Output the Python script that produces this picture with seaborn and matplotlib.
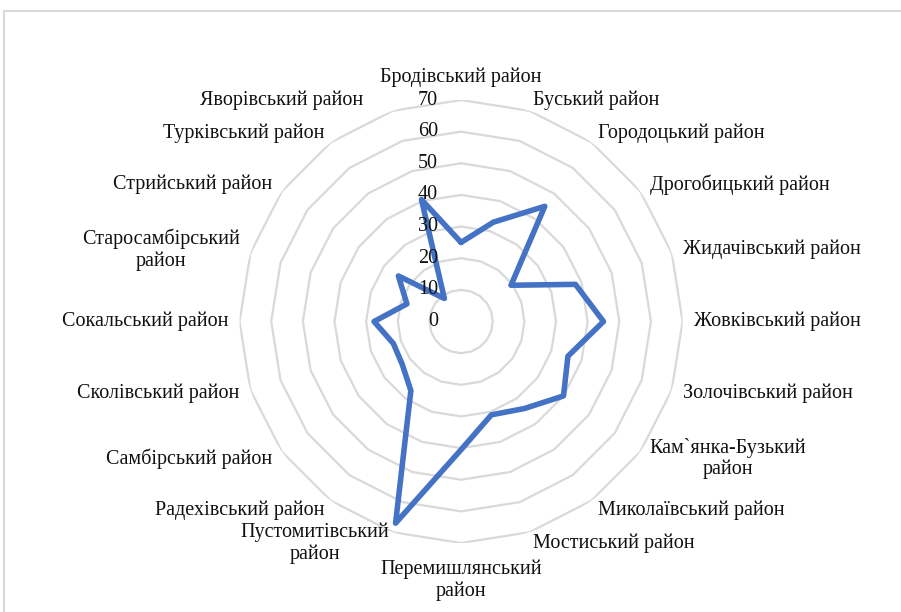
import numpy as np
import pandas as pd
import matplotlib
matplotlib.use("Agg")
import matplotlib.pyplot as plt
import matplotlib.patches as patches
from matplotlib.transforms import offset_copy
import seaborn as sns

# districts, clockwise from the top
districts = ['Бродівський район', 'Буський район', 'Городоцький район',
             'Дрогобицький район', 'Жидачівський район', 'Жовківський район',
             'Золочівський район', 'Кам`янка-Бузький\nрайон', 'Миколаївський район',
             'Мостиський район', 'Перемишлянський\nрайон', 'Пустомитівський\nрайон',
             'Радехівський район', 'Самбірський район', 'Сколівський район',
             'Сокальський район', 'Старосамбірський\nрайон', 'Стрийський район',
             'Турківський район', 'Яворівський район']
values = [25, 33, 45, 19.5, 38, 45, 35.5, 40, 34, 31,
          40.5, 67, 27, 23, 22.5, 27.5, 18, 24.5, 9, 40.5]
rings = [0, 10, 20, 30, 40, 50, 60, 70]

sns.set_theme(style="white")
plt.rcParams['font.family'] = ['Liberation Serif', 'DejaVu Serif']

fig = plt.figure(figsize=(9.01, 6.12), dpi=100)
ax = fig.add_axes([0.2659, 0.1127, 0.4917, 0.7239], projection='polar')
ax.set_theta_offset(np.pi / 2)
ax.set_theta_direction(-1)

n = len(districts)
theta = np.arange(n) * 2 * np.pi / n
# close the polygon at 2*pi so seaborn does not merge it with the first point
theta_closed = np.append(theta, 2 * np.pi)

# polygon grid
for r in rings[1:]:
    ax.plot(theta_closed, [r] * (n + 1), color='#d9d9d9', lw=1.6, zorder=1)

df = pd.DataFrame({'theta': theta_closed, 'value': values + values[:1]})
sns.lineplot(data=df, x='theta', y='value', sort=False, estimator=None, ax=ax,
             color='#4472C4', lw=4, zorder=3)

ax.set_ylim(0, 70)
ax.grid(False)
ax.spines['polar'].set_visible(False)
ax.set_xticks([])
ax.set_yticks([])
ax.set_xlabel('')
ax.set_ylabel('')
ax.patch.set_alpha(0)

fs = 14.5
txt_color = '#111111'
# radial value labels, left of the vertical axis
trans = offset_copy(ax.transData, fig=fig, x=-23, y=0, units='dots')
for r in rings:
    ax.text(0, r, str(r), transform=trans, ha='right', va='center',
            fontsize=fs, color=txt_color)

# category labels
R = 73.6
for i, (t, lab) in enumerate(zip(theta, districts)):
    deg = np.degrees(t)
    s = np.sin(t)
    if abs(s) < 1e-6:
        ha = 'center'
    elif s > 0:
        ha = 'left'
    else:
        ha = 'right'
    va = 'center'
    rr = R
    if deg == 0:
        va = 'bottom'
        rr = 74.2
    elif abs(deg - 180) < 1e-6:
        va = 'top'
        rr = 75.2
    tr = ax.transData
    if lab.startswith('Яворівський'):
        tr = offset_copy(ax.transData, fig=fig, x=-26, y=0, units='dots')
    ax.text(t, rr, lab, transform=tr, ha=ha, va=va, fontsize=fs,
            multialignment='center', color=txt_color, linespacing=1.15)

# chart area border (top and left edges visible)
fig.patches.append(patches.Rectangle((4 / 901, -0.2), 1.5, 1.2 - 11 / 612,
                                     transform=fig.transFigure, fill=False,
                                     edgecolor='#d9d9d9', lw=1.5))

fig.savefig("out.png", dpi=100)
